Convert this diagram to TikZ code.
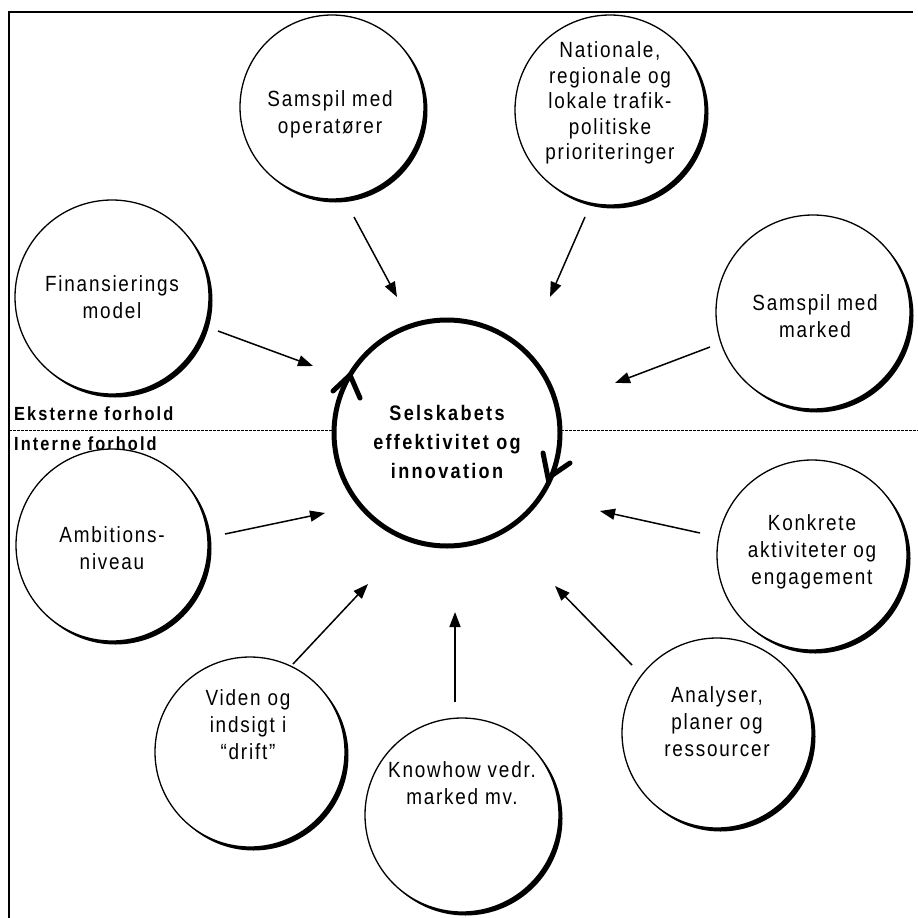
\documentclass[tikz,border=0pt]{standalone}
\usepackage{fontspec}
\setmainfont{Liberation Sans}
\newfontfamily\lab{Liberation Sans}[LetterSpace=8,FakeStretch=0.86]
\newfontfamily\labb{Liberation Sans}[LetterSpace=11,FakeStretch=0.86]
\usetikzlibrary{arrows.meta}
\tikzset{
  bub/.style={draw=black,line width=1.3pt,fill=white},
  shad/.style={fill=black,draw=none},
  btext/.style={align=center,font=\lab\fontsize{22}{27}\selectfont,inner sep=0pt},
  conn/.style={line width=1.5pt,-{Triangle[length=15pt,width=11pt]}},
  side/.style={anchor=west,font=\labb\bfseries\fontsize{19}{20}\selectfont,inner sep=0pt},
}
\newcommand{\bubble}[4]{% name, x, y, r
  \fill[shad] (#2+3.5,#3+3.5) circle (#4);
  \path[bub] (#2,#3) circle (#4);
  \coordinate (#1) at (#2,#3);
}
\begin{document}
\begin{tikzpicture}[x=1pt,y=-1pt]
\useasboundingbox (0,0) rectangle (918,918);
\fill[white] (0,0) rectangle (918,918);
% frame
\draw[line width=2pt] (9,920) -- (9,12) -- (913,12);
% dashed divider
\draw[line width=0.8pt,dash pattern=on 3pt off 1pt] (9,430) -- (918,430);
\node[side] (ext) at (14,414) {Eksterne forhold};
\node[side] (int) at (14,444) {Interne forhold};
% outer bubbles
\bubble{c1}{332}{107}{92}
\bubble{c2}{610}{110}{95}
\bubble{c3}{112}{297}{97}
\bubble{c4}{813}{312}{97}
\bubble{c5}{112}{545}{96}
\bubble{c6}{812}{555}{95}
\bubble{c7}{250}{752}{95}
\bubble{c8}{462}{815}{97}
\bubble{c9}{717}{733}{95}
\node[btext] (t1) at (330,114) {Samspil med\\operatører};
\node[btext,font=\lab\fontsize{22}{25.5}\selectfont] (t2) at (610,103) {Nationale,\\regionale og\\lokale trafik-\\politiske\\prioriteringer};
\node[btext] (t3) at (112,297) {Finansierings\\model};
\node[btext] (t4) at (815,316) {Samspil med\\marked};
\node[btext] (t5) at (112,548) {Ambitions-\\niveau};
\node[btext] (t6) at (812,552) {Konkrete\\aktiviteter og\\engagement};
\node[btext] (t7) at (248,725) {Viden og\\indsigt i\\“drift”};
\node[btext] (t8) at (462,783) {Knowhow vedr.\\marked mv.};
\node[btext] (t9) at (717,722) {Analyser,\\planer og\\ressourcer};
% central circle
\draw[line width=5pt,fill=white] (447,433) circle (113);
\coordinate (cc) at (447,433);
\draw[line width=5pt,line cap=round,line join=miter] (333,391) -- (350,375) -- (360,398);
\draw[line width=5pt,line cap=round,line join=miter] (543,453) -- (548,478) -- (570,463);
\node[btext,font=\labb\bfseries\fontsize{21}{29}\selectfont] (ct) at (447,442) {Selskabets\\effektivitet og\\innovation};
% connectors
\coordinate (s1) at (354,217); \coordinate (e1) at (397,297);
\coordinate (s2) at (585,217); \coordinate (e2) at (550,297);
\coordinate (s3) at (218,331); \coordinate (e3) at (313,366);
\coordinate (s4) at (710,347); \coordinate (e4) at (615,383);
\coordinate (s5) at (225,534); \coordinate (e5) at (325,513);
\coordinate (s6) at (700,533); \coordinate (e6) at (600,511);
\coordinate (s7) at (293,664); \coordinate (e7) at (368,584);
\coordinate (s8) at (455,702); \coordinate (e8) at (455,612);
\coordinate (s9) at (632,665); \coordinate (e9) at (555,586);
\foreach \i in {1,...,9} {\draw[conn] (s\i) -- (e\i);}
\end{tikzpicture}
\end{document}
